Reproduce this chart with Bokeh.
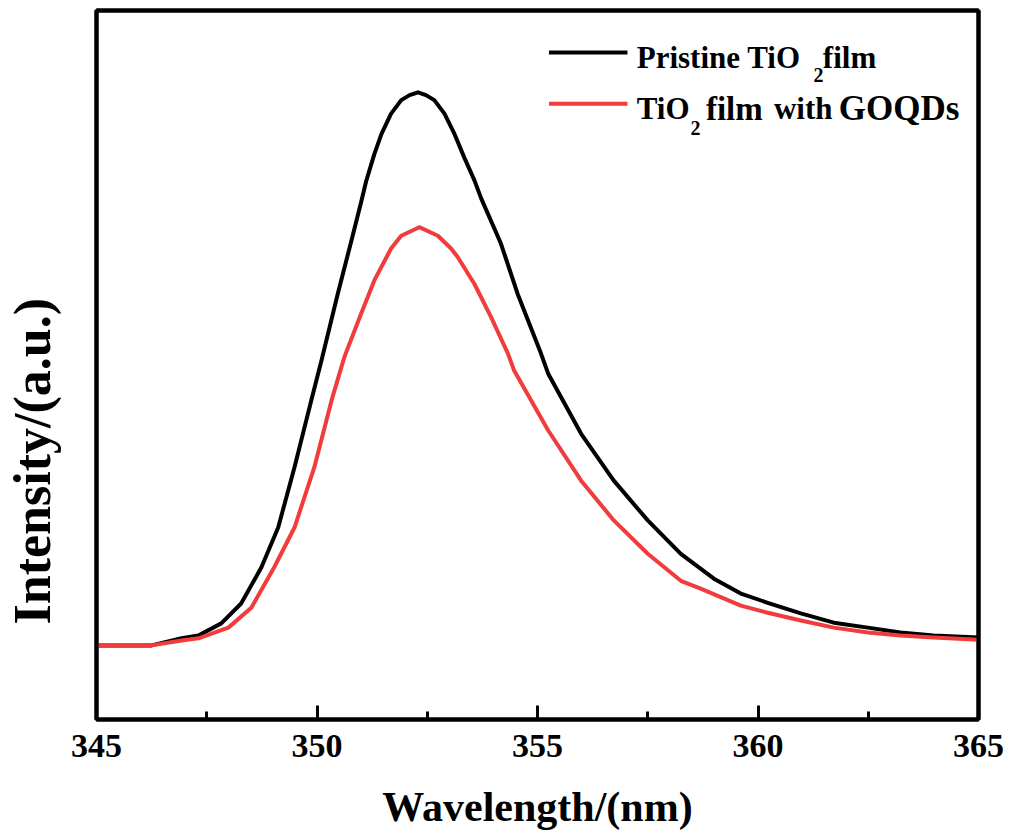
from bokeh.plotting import figure
from bokeh.models import Range1d, FixedTicker, Label, LinearAxis, Title
from bokeh.embed import file_html
from bokeh.resources import INLINE

# ---- data (intensity in arbitrary units) ----
wl_pristine = [345.00, 346.25, 346.93, 347.31, 347.83, 348.28, 348.74, 349.12, 349.49,
               349.87, 350.10, 350.47, 350.78, 351.00, 351.12, 351.30, 351.46, 351.68,
               351.91, 352.10, 352.29, 352.47, 352.66, 352.89, 353.12, 353.34, 353.57,
               353.72, 354.17, 354.55, 355.08, 355.24, 355.99, 356.73, 357.50, 358.25,
               359.00, 359.61, 360.22, 360.97, 361.72, 362.49, 363.23, 363.98, 365.00]
int_pristine = [103, 103, 113, 117, 134, 162, 213, 269, 354,
                448, 504, 598, 673, 727, 758, 795, 823, 852,
                871, 878, 882, 878, 871, 852, 823, 790, 758,
                733, 669, 598, 514, 486, 401, 335, 279, 232,
                197, 176, 163, 148, 135, 128, 121, 117, 114]

wl_goqd = [345.00, 346.25, 346.93, 347.31, 347.99, 348.51, 349.03, 349.49, 349.94,
           350.33, 350.62, 351.00, 351.30, 351.68, 351.91, 352.32, 352.74, 353.04,
           353.19, 353.57, 353.95, 354.33, 354.47, 355.24, 355.99, 356.73, 357.50,
           358.25, 358.70, 359.61, 360.22, 360.97, 361.72, 362.49, 363.23, 363.98, 365.00]
int_goqd = [103, 103, 110, 113, 128, 156, 213, 269, 354,
            448, 509, 570, 617, 662, 680, 692, 680, 662,
            650, 612, 565, 514, 490, 406, 335, 279, 232,
            194, 183, 159, 149, 138, 128, 121, 117, 114, 111]

series_names = ["Pristine TiO", "TiO"]
x_ticks = [345, 350, 355, 360, 365]
x_minor = [347.5, 352.5, 357.5, 362.5]

BLACK = "#000000"
RED = "#F03C3C"
FONT = "'Liberation Serif', 'Times New Roman', serif"

p = figure(width=1009, height=838, output_backend="svg", toolbar_location=None,
           x_range=Range1d(345, 365), y_range=Range1d(-1.4, 997.2),
           min_border_left=95, min_border_right=31, min_border_top=10, min_border_bottom=119)

p.line(wl_pristine, int_pristine, line_color=BLACK, line_width=4, line_join="round")
p.line(wl_goqd, int_goqd, line_color=RED, line_width=4, line_join="round")

p.grid.visible = False
p.outline_line_color = BLACK
p.outline_line_width = 4
p.background_fill_color = "white"
p.border_fill_color = "white"

xa = p.xaxis[0]
xa.ticker = FixedTicker(ticks=x_ticks, minor_ticks=x_minor)
xa.axis_line_width = 4
xa.major_tick_in = 14
xa.major_tick_out = 0
xa.minor_tick_in = 8
xa.minor_tick_out = 0
xa.major_tick_line_width = 3
xa.minor_tick_line_width = 3
xa.major_label_text_font = FONT
xa.major_label_text_font_style = "bold"
xa.major_label_text_font_size = "34px"
xa.major_label_text_color = BLACK
xa.major_label_standoff = 15
xa.axis_label = "Wavelength/(nm)"
xa.axis_label_text_font = FONT
xa.axis_label_text_font_style = "bold"
xa.axis_label_text_font_size = "42px"
xa.axis_label_text_color = BLACK
xa.axis_label_standoff = 24

def plain_axis(ax):
    ax.ticker = FixedTicker(ticks=[])
    ax.axis_line_width = 4
    ax.axis_line_color = BLACK
    ax.major_tick_in = 0
    ax.major_tick_out = 0
    ax.minor_tick_in = 0
    ax.minor_tick_out = 0
    ax.major_label_text_font_size = "0px"

ya = p.yaxis[0]
plain_axis(ya)
# blank spacer label pushes the real title (below) out to where the reference has it
ya.axis_label = " "
ya.axis_label_text_font_size = "10px"
ya.axis_label_standoff = 21

top_axis = LinearAxis()
plain_axis(top_axis)
p.add_layout(top_axis, "above")
right_axis = LinearAxis()
plain_axis(right_axis)
p.add_layout(right_axis, "right")

# y-axis title: sits below the frame centre in the reference
p.add_layout(Title(text="Intensity/(a.u.)", align="left", offset=95, standoff=2,
                   vertical_align="bottom",
                   text_font=FONT, text_font_style="bold", text_font_size="52px",
                   text_color=BLACK), "left")

# ---- legend (drawn by hand for the subscripts) ----
p.segment(x0=[355.26, 355.26], y0=[938, 866], x1=[357.04, 357.04], y1=[938, 866],
          line_color=[BLACK, RED], line_width=4)

def lab(x, y, t, size):
    p.add_layout(Label(x=x, y=y, text=t, text_font=FONT, text_font_style="bold",
                       text_font_size=size, text_color=BLACK, text_baseline="alphabetic",
                       text_align="left"))

lab(357.25, 931, series_names[0], "31px")
lab(361.26, 906, "2", "20px")
lab(361.47, 931, "film", "31px")
lab(357.25, 859, series_names[1], "31px")
lab(358.47, 832, "2", "20px")
lab(358.82, 859, "film", "33px")
lab(360.36, 859, "with", "31px")
lab(361.83, 859, "GOQDs", "35px")

open("out.html", "w").write(file_html(p, INLINE))
